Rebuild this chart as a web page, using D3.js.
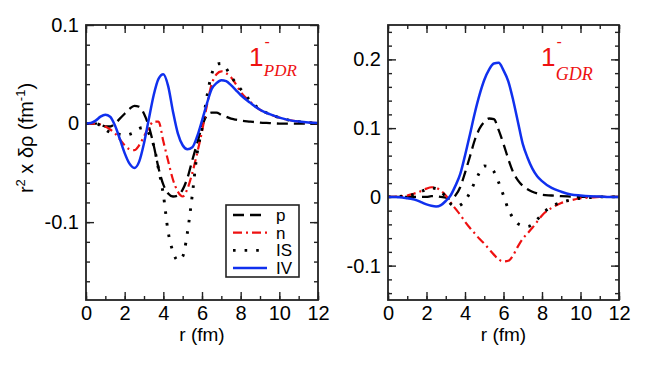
<!DOCTYPE html>
<html>
<head>
<meta charset="utf-8">
<script src="https://d3js.org/d3.v7.min.js"></script>
<style>
	body { margin: 0; background: #fff; }
	svg { font-family: "Liberation Sans", Arial, sans-serif; }
	.tick text { font-size: 20px; fill: #000; }
	.tick line { stroke: #222; stroke-width: 1.4; }
	.domain { display: none; }
</style>
</head>
<body>
<svg width="654" height="365"></svg>
<script>

// r grid (fm), shared by every curve
var rGrid = [0, 0.25, 0.5, 0.75, 1, 1.25, 1.5, 1.75, 2, 2.25, 2.5, 2.75, 3, 3.25, 3.5, 3.75,
	4, 4.25, 4.5, 4.75, 5, 5.25, 5.5, 5.75, 6, 6.25, 6.5, 6.75, 7, 7.25, 7.5, 7.75,
	8, 8.5, 9, 9.5, 10, 10.5, 11, 11.5, 12];

// 1- PDR panel
var pdrP = [0, 0, 0, -0.001, -0.003, -0.003, 0, 0.005, 0.010, 0.015, 0.018, 0.017, 0.010, -0.003, -0.022, -0.045,
	-0.062, -0.071, -0.074, -0.073, -0.067, -0.055, -0.037, -0.020, -0.003, 0.008, 0.011, 0.011, 0.009, 0.007, 0.005, 0.004,
	0.003, 0.002, 0.001, 0.0005, 0, 0, 0, 0, 0];
var pdrN = [0, 0, 0, -0.001, -0.003, -0.006, -0.010, -0.016, -0.022, -0.026, -0.027, -0.022, -0.013, -0.004, 0.002, 0.002,
	-0.018, -0.038, -0.057, -0.069, -0.074, -0.066, -0.050, -0.030, -0.008, 0.018, 0.040, 0.050, 0.053, 0.051, 0.047, 0.040,
	0.032, 0.022, 0.014, 0.0095, 0.006, 0.0035, 0.002, 0.001, 0.0005];
var pdrIS = [0, 0, 0, -0.002, -0.006, -0.009, -0.010, -0.011, -0.012, -0.011, -0.009, -0.005, -0.004, -0.010, -0.022, -0.046,
	-0.072, -0.110, -0.130, -0.139, -0.135, -0.110, -0.072, -0.030, -0.005, 0.027, 0.050, 0.060, 0.061, 0.056, 0.048, 0.041,
	0.035, 0.023, 0.0145, 0.0095, 0.006, 0.0035, 0.002, 0.001, 0.0005];
var pdrIV = [0, 0.0005, 0.003, 0.007, 0.009, 0.007, -0.002, -0.0156, -0.030, -0.0407, -0.045, -0.0386, -0.020, 0.0046, 0.0288, 0.0454,
	0.050, 0.038, 0.012, -0.010, -0.022, -0.026, -0.024, -0.013, 0.003, 0.020, 0.035, 0.041, 0.044, 0.043, 0.039, 0.034,
	0.029, 0.021, 0.014, 0.0095, 0.006, 0.0035, 0.002, 0.001, 0.0005];

// 1- GDR panel
var gdrP = [0, 0, 0, 0, 0, 0, 0, 0, 0, 0.001, 0.001, 0, -0.001, -0.003, 0.002, 0.014,
	0.035, 0.058, 0.082, 0.099, 0.109, 0.114, 0.113, 0.097, 0.077, 0.055, 0.036, 0.024, 0.016, 0.011, 0.0075, 0.005,
	0.003, 0.002, 0.001, 0.0005, 0, 0, 0, 0, 0];
var gdrN = [0, 0, 0.0005, 0.001, 0.002, 0.004, 0.006, 0.009, 0.012, 0.014, 0.013, 0.009, 0.002, -0.008, -0.017, -0.026,
	-0.036, -0.045, -0.053, -0.061, -0.068, -0.076, -0.084, -0.091, -0.094, -0.093, -0.085, -0.072, -0.061, -0.053, -0.045, -0.036,
	-0.027, -0.016, -0.009, -0.005, -0.002, -0.001, 0, 0, 0];
var gdrIS = [0, 0, 0.0005, 0.001, 0.002, 0.003, 0.005, 0.008, 0.011, 0.013, 0.012, 0.008, 0, -0.010, -0.014, -0.012,
	-0.006, 0.006, 0.021, 0.035, 0.045, 0.044, 0.037, 0.021, 0.002, -0.018, -0.031, -0.039, -0.042, -0.043, -0.040, -0.033,
	-0.025, -0.014, -0.008, -0.0045, -0.002, -0.001, 0, 0, 0];
var gdrIV = [0, 0, -0.0005, -0.001, -0.002, -0.003, -0.005, -0.008, -0.011, -0.013, -0.014, -0.012, -0.006, 0.002, 0.016, 0.033,
	0.060, 0.090, 0.121, 0.148, 0.170, 0.185, 0.194, 0.195, 0.184, 0.168, 0.141, 0.109, 0.077, 0.057, 0.041, 0.030,
	0.023, 0.013, 0.0075, 0.0035, 0.002, 0.001, 0.0005, 0, 0];

var seriesNames = ["p", "n", "IS", "IV"];
var xTicks = [0, 2, 4, 6, 8, 10, 12];
var pdrYTicks = [-0.1, 0, 0.1];
var gdrYTicks = [-0.1, 0, 0.1, 0.2];

var styles = {
	p:  {color: "#000", dash: "11,6", width: 2.3},
	n:  {color: "#ee1111", dash: "9,4,2,4", width: 2.2},
	IS: {color: "#000", dash: "2.6,9", width: 2.9},
	IV: {color: "#1030ee", dash: null, width: 2.5}
};

var svg = d3.select("svg");
var plotTop = 25, plotBottom = 300;

function fmtY(d) {
	if (d === 0) return "0";
	return (d < 0 ? "-" : "") + Math.abs(d).toFixed(1);
}

function panel(opts) {
	var x = d3.scaleLinear().domain([0, 12]).range([opts.left, opts.right]);
	var y = d3.scaleLinear().domain(opts.yDomain).range([plotBottom, plotTop]);
	var g = svg.append("g");

	var minorX = d3.range(0, 12.01, 1);
	var minorY = d3.range(-0.2, 0.26, 0.02).filter(function(v) {
		return v > opts.yDomain[0] + 1e-6 && v < opts.yDomain[1] - 1e-6;
	});

	// minor ticks, all four sides
	g.append("g").attr("transform", "translate(0," + plotBottom + ")")
		.call(d3.axisBottom(x).tickValues(minorX).tickSize(-4).tickFormat(""));
	g.append("g").attr("transform", "translate(0," + plotTop + ")")
		.call(d3.axisTop(x).tickValues(minorX).tickSize(-4).tickFormat(""));
	g.append("g").attr("transform", "translate(" + opts.left + ",0)")
		.call(d3.axisLeft(y).tickValues(minorY).tickSize(-4).tickFormat(""));
	g.append("g").attr("transform", "translate(" + opts.right + ",0)")
		.call(d3.axisRight(y).tickValues(minorY).tickSize(-4).tickFormat(""));

	// major ticks
	g.append("g").attr("transform", "translate(0," + plotBottom + ")")
		.call(d3.axisBottom(x).tickValues(xTicks).tickSize(-8).tickPadding(6).tickFormat(d3.format("d")));
	g.append("g").attr("transform", "translate(0," + plotTop + ")")
		.call(d3.axisTop(x).tickValues(xTicks).tickSize(-8).tickFormat(""));
	g.append("g").attr("transform", "translate(" + opts.left + ",0)")
		.call(d3.axisLeft(y).tickValues(opts.yTicks).tickSize(-8).tickPadding(7).tickFormat(fmtY));
	g.append("g").attr("transform", "translate(" + opts.right + ",0)")
		.call(d3.axisRight(y).tickValues(opts.yTicks).tickSize(-8).tickFormat(""));

	var clipId = "clip" + opts.id;
	svg.append("clipPath").attr("id", clipId).append("rect")
		.attr("x", opts.left).attr("y", plotTop)
		.attr("width", opts.right - opts.left).attr("height", plotBottom - plotTop);

	var line = d3.line()
		.x(function(d, i) { return x(rGrid[i]); })
		.y(function(d) { return y(d); })
		.curve(d3.curveMonotoneX);

	var curves = g.append("g").attr("clip-path", "url(#" + clipId + ")");
	seriesNames.forEach(function(name) {
		var s = styles[name];
		curves.append("path")
			.datum(opts.data[name])
			.attr("d", line)
			.attr("fill", "none")
			.attr("stroke", s.color)
			.attr("stroke-width", s.width)
			.attr("stroke-dasharray", s.dash);
	});

	g.append("rect")
		.attr("x", opts.left).attr("y", plotTop)
		.attr("width", opts.right - opts.left).attr("height", plotBottom - plotTop)
		.attr("fill", "none").attr("stroke", "#222").attr("stroke-width", 1.8);

	g.append("text")
		.attr("x", (opts.left + opts.right) / 2).attr("y", 341)
		.attr("text-anchor", "middle").attr("font-size", 19)
		.text("r (fm)");

	// red state label
	var lab = g.append("text").attr("fill", "#ee1111")
		.attr("x", opts.labelX).attr("y", 66);
	lab.append("tspan").attr("font-size", 26).text("1");
	lab.append("tspan").attr("font-size", 16).attr("dx", 1).attr("dy", -19).text("-");
	lab.append("tspan").attr("font-family", "'Liberation Serif', 'Times New Roman', serif")
		.attr("font-style", "italic").attr("font-size", opts.subSize)
		.attr("dx", -6).attr("dy", opts.subDy).text(opts.sub);

	return {x: x, y: y, g: g};
}

panel({
	id: "pdr", left: 86, right: 318, yDomain: [-0.179, 0.1], yTicks: pdrYTicks,
	data: {p: pdrP, n: pdrN, IS: pdrIS, IV: pdrIV},
	labelX: 249, sub: "PDR", subSize: 17, subDy: 29
});

panel({
	id: "gdr", left: 388, right: 619, yDomain: [-0.15, 0.25], yTicks: gdrYTicks,
	data: {p: gdrP, n: gdrN, IS: gdrIS, IV: gdrIV},
	labelX: 541, sub: "GDR", subSize: 18, subDy: 33
});

// y axis title
var yt = svg.append("text")
	.attr("transform", "translate(33,138) rotate(-90)")
	.attr("text-anchor", "middle").attr("font-size", 20);
yt.append("tspan").text("r");
yt.append("tspan").attr("font-size", 13).attr("dy", -8).text("2");
yt.append("tspan").attr("dy", 8).text(" x δρ  (fm");
yt.append("tspan").attr("font-size", 13).attr("dy", -8).text("-1");
yt.append("tspan").attr("dy", 8).text(")");

// legend
var lg = svg.append("g");
lg.append("rect").attr("x", 226).attr("y", 205).attr("width", 73).attr("height", 72)
	.attr("fill", "#fff").attr("stroke", "#222").attr("stroke-width", 1.6);
var rows = lg.selectAll("g.row").data(seriesNames).enter().append("g")
	.attr("transform", function(d, i) { return "translate(0," + (215 + i * 17.7) + ")"; });
rows.append("line")
	.attr("x1", 233).attr("x2", 267).attr("y1", 0).attr("y2", 0)
	.attr("stroke", function(d) { return styles[d].color; })
	.attr("stroke-width", function(d) { return styles[d].width; })
	.attr("stroke-dasharray", function(d) { return styles[d].dash; });
rows.append("text")
	.attr("x", 276).attr("y", 6).attr("font-size", 17)
	.text(function(d) { return d; });

</script>
</body>
</html>
